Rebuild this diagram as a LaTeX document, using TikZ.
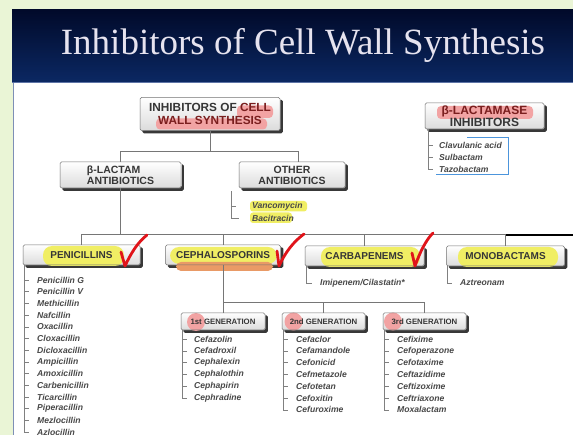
\documentclass[tikz,border=0pt]{standalone}
\usepackage{fontspec}
\setmainfont{Liberation Sans}
\newfontfamily\titlefont{Liberation Serif}
\usetikzlibrary{calc}
\definecolor{bgreen}{HTML}{EAF5D6}
\definecolor{navyA}{HTML}{010A2A}
\definecolor{navyB}{HTML}{0B2863}
\definecolor{bandline}{HTML}{5E74A6}
\definecolor{leftline}{HTML}{7E8FB6}
\definecolor{titlec}{HTML}{E6E3EF}
\definecolor{lnk}{HTML}{767676}
\definecolor{txt}{HTML}{363636}
\definecolor{redtxt}{HTML}{7A1E1E}
\definecolor{hlyel}{HTML}{F0EE64}
\definecolor{hlpink}{HTML}{F2A3A3}
\definecolor{hlorange}{HTML}{E99A66}
\definecolor{chk}{HTML}{E0141A}
\definecolor{itemc}{HTML}{484848}
\definecolor{bluebr}{HTML}{4C95DC}
\pgfdeclarelayer{ground}
\pgfdeclarelayer{back}
\pgfdeclarelayer{hl}
\pgfsetlayers{ground,back,hl,main}
\newcommand\bxbg[1]{%
\begin{pgfonlayer}{back}
\fill[black!78, rounded corners=1.5pt] ([shift={(2.6pt,-2.6pt)}]#1.south west) rectangle ([shift={(2.6pt,-2.6pt)}]#1.north east);
\shade[top color=white, bottom color=black!14, rounded corners=1.5pt] (#1.south west) rectangle (#1.north east);
\end{pgfonlayer}}
\tikzset{
  box/.style={draw=black!55, line width=0.5pt, rounded corners=1.5pt, inner sep=0pt, text=txt, align=center},
  boxA/.style={box, font=\bfseries\fontsize{11.8}{12.5}\selectfont},
  boxL/.style={box, font=\bfseries\fontsize{12}{11.5}\selectfont},
  boxB/.style={box, font=\bfseries\fontsize{10.5}{11}\selectfont},
  boxC/.style={box, font=\bfseries\fontsize{10}{11}\selectfont},
  boxD/.style={box, font=\bfseries\fontsize{7.8}{9}\selectfont},
  item/.style={anchor=west, inner sep=0pt, font=\bfseries\itshape\fontsize{8.6}{9}\selectfont, text=itemc},
  link/.style={draw=lnk, line width=0.6pt},
  tree/.style={draw=black!50, line width=0.5pt},
  check/.style={draw=chk, line width=2.8pt, line cap=round, line join=round}
}
\begin{document}
\begin{tikzpicture}[x=1pt,y=-1pt]
\useasboundingbox (0,0) rectangle (573,435);
% background
\begin{pgfonlayer}{ground}
\fill[bgreen] (0,0) rectangle (573,435);
\shade[top color=navyA, bottom color=navyB] (12,10) rectangle (573,82.5);
\fill[white] (13,83) rectangle (573,435);
\draw[bandline, line width=1pt] (12,82.8) -- (573,82.8);
\draw[leftline, line width=1pt] (13.5,83) -- (13.5,435);
\end{pgfonlayer}
\node[font=\titlefont\fontsize{37}{40}\selectfont, text=titlec, anchor=base] (title) at (303,54.5) {Inhibitors of Cell Wall Synthesis};

% boxes
\node[boxA, minimum width=140, minimum height=33] (top) at (210,114)
  {INHIBITORS OF \textcolor{redtxt}{CELL}\\\textcolor{redtxt}{WALL SYNTHESIS}};
\bxbg{top}
\node[boxL, minimum width=119, minimum height=26] (bli) at (484.5,116)
  {\textcolor{redtxt}{β-LACTAMASE}\\INHIBITORS};
\bxbg{bli}
\node[boxB, align=left, minimum width=121, minimum height=26] (blac) at (120.5,175)
  {β-LACTAM\\ANTIBIOTICS};
\bxbg{blac}
\node[boxB, minimum width=106, minimum height=26] (oth) at (292,175)
  {OTHER\\ANTIBIOTICS};
\bxbg{oth}
\node[boxC, minimum width=117, minimum height=20] (pen) at (81.5,255) {PENICILLINS};
\bxbg{pen}
\node[boxC, minimum width=115, minimum height=20] (ceph) at (223,255) {CEPHALOSPORINS};
\bxbg{ceph}
\node[boxC, minimum width=119, minimum height=20] (carb) at (364.5,256) {CARBAPENEMS};
\bxbg{carb}
\node[boxC, minimum width=118, minimum height=20] (mono) at (505.5,256) {MONOBACTAMS};
\bxbg{mono}
\node[boxD, minimum width=84, minimum height=17] (g1) at (223,321.5) {1st GENERATION};
\bxbg{g1}
\node[boxD, minimum width=83, minimum height=17] (g2) at (323.5,321.5) {2nd GENERATION};
\bxbg{g2}
\node[boxD, minimum width=83, minimum height=17] (g3) at (424.5,321.5) {3rd GENERATION};
\bxbg{g3}

% highlights
\begin{pgfonlayer}{hl}
\fill[hlpink, rounded corners=4pt] (237,105.5) rectangle (273,118);
\fill[hlpink, rounded corners=4pt] (156,118.5) rectangle (267,129.5);
\fill[hlpink, rounded corners=4pt] (437,106) rectangle (533,119);
\fill[hlyel, rounded corners=9pt] (43,246) rectangle (124,266);
\fill[hlyel, rounded corners=9pt] (170,247) rectangle (277,264);
\fill[hlorange, rounded corners=5pt] (176,262) rectangle (273,271);
\fill[hlyel, rounded corners=9pt] (321,247) rectangle (420,267);
\fill[hlyel, rounded corners=9pt] (458,247) rectangle (558,267);
\fill[hlyel, rounded corners=3pt] (250,201) rectangle (307,211.5);
\fill[hlyel, rounded corners=3pt] (250,212.5) rectangle (292,223);
\fill[hlpink] (196,322) circle (9);
\fill[hlpink] (293.5,321.5) circle (9);
\fill[hlpink] (393,321.5) circle (9);
\end{pgfonlayer}

% connectors
\coordinate (b1) at (0,151);
\coordinate (b2) at (0,234);
\coordinate (b3) at (0,302);
\coordinate (oc) at ($(oth.north)+(6,0)$);
\draw[link] (top.south) -- (top.south |- b1);
\draw[link] (blac.north) |- (oc |- b1) -- (oc);
\draw[link] (blac.south) -- (blac.south |- b2);
\draw[link] (pen.north) |- (mono.north |- b2) -- (mono.north);
\draw[link] (ceph.north) -- (ceph.north |- b2);
\draw[link] (carb.north) -- (carb.north |- b2);
\draw[link] (ceph.south) -- (g1.north);
\draw[link] (ceph.south |- b3) -| (g3.north);
\draw[link] (g2.north) -- (g2.north |- b3);
\coordinate (blk1) at (506,235.5);
\coordinate (blk2) at (573,235.5);
\draw[black, line width=2pt] (blk1) -- (blk2);

% beta-lactamase inhibitors list
\foreach \t [count=\i] in {Clavulanic acid, Sulbactam, Tazobactam}
  \node[item] (li\i) at (439,133+12*\i) {\t};
\coordinate (tli) at ($(bli.south west)+(3,0)$);
\draw[tree] (tli) |- ([xshift=-6pt]li3.west);
\foreach \i in {1,2} \draw[tree] (tli |- li\i.west) -- ++(5,0);
\coordinate (bb1) at (467,137);
\coordinate (bb2) at (508,174);
\coordinate (bb3) at (436,174);
\draw[bluebr, line width=0.8pt] (bb1) -| (bb2) -- (bb3);

% other antibiotics list
\foreach \t [count=\i] in {Vancomycin, Bacitracin}
  \node[item] (lo\i) at (252,194+12*\i) {\t};
\coordinate (tlo) at ($(oth.south west)+(-8,3)$);
\draw[tree] (tlo) |- ([xshift=-13pt]lo2.west);
\draw[tree] (tlo |- lo1.west) -- ++(5,0);

% penicillins list
\foreach \t [count=\i] in {Penicillin G, Penicillin V, Methicillin, Nafcillin, Oxacillin, Cloxacillin, Dicloxacillin, Ampicillin, Amoxicillin, Carbenicillin, Ticarcillin, Piperacillin, Mezlocillin, Azlocillin}
  \node[item] (lp\i) at (37,268.3+11.7*\i) {\t};
\coordinate (tlp) at ($(pen.south west)+(1,0)$);
\draw[tree] (tlp) |- ([xshift=-8pt]lp14.west);
\foreach \i in {1,...,13} \draw[tree] (tlp |- lp\i.west) -- ++(5,0);

% carbapenems, monobactams
\node[item] (lc1) at (320,283) {Imipenem/Cilastatin*};
\coordinate (tlc) at ($(carb.south west)+(1,0)$);
\draw[tree] (tlc) |- ([xshift=-8pt]lc1.west);
\node[item] (lm1) at (460,283) {Aztreonam};
\coordinate (tlm) at ($(mono.south west)+(1,0)$);
\draw[tree] (tlm) |- ([xshift=-8pt]lm1.west);

% generations
\foreach \t [count=\i] in {Cefazolin, Cefadroxil, Cephalexin, Cephalothin, Cephapirin, Cephradine}
  \node[item] (la\i) at (194,327.2+11.8*\i) {\t};
\coordinate (tla) at ($(g1.south west)+(1.5,0)$);
\draw[tree] (tla) |- ([xshift=-7pt]la6.west);
\foreach \i in {1,...,5} \draw[tree] (tla |- la\i.west) -- ++(5,0);

\foreach \t [count=\i] in {Cefaclor, Cefamandole, Cefonicid, Cefmetazole, Cefotetan, Cefoxitin, Cefuroxime}
  \node[item] (lb\i) at (296,327.2+11.8*\i) {\t};
\coordinate (tlb) at ($(g2.south west)+(1,0)$);
\draw[tree] (tlb) |- ([xshift=-8pt]lb7.west);
\foreach \i in {1,...,6} \draw[tree] (tlb |- lb\i.west) -- ++(5,0);

\foreach \t [count=\i] in {Cefixime, Cefoperazone, Cefotaxime, Ceftazidime, Ceftizoxime, Ceftriaxone, Moxalactam}
  \node[item] (lg\i) at (397,327.2+11.8*\i) {\t};
\coordinate (tlg) at ($(g3.south west)+(1,0)$);
\draw[tree] (tlg) |- ([xshift=-8pt]lg7.west);
\foreach \i in {1,...,6} \draw[tree] (tlg |- lg\i.west) -- ++(5,0);

% check marks
\coordinate (c1a) at (121,252); \coordinate (c1b) at (125,266); \coordinate (c1c) at (147,235);
\draw[check] (c1a) -- (c1b) .. controls (131,253) and (138,242) .. (c1c);
\coordinate (c2a) at (277,251); \coordinate (c2b) at (279,266); \coordinate (c2c) at (304,234);
\draw[check] (c2a) -- (c2b) .. controls (285,253) and (293,242) .. (c2c);
\coordinate (c3a) at (412,253); \coordinate (c3b) at (415,266); \coordinate (c3c) at (433,233);
\draw[check] (c3a) -- (c3b) .. controls (420,252) and (426,240) .. (c3c);
\end{tikzpicture}
\end{document}
